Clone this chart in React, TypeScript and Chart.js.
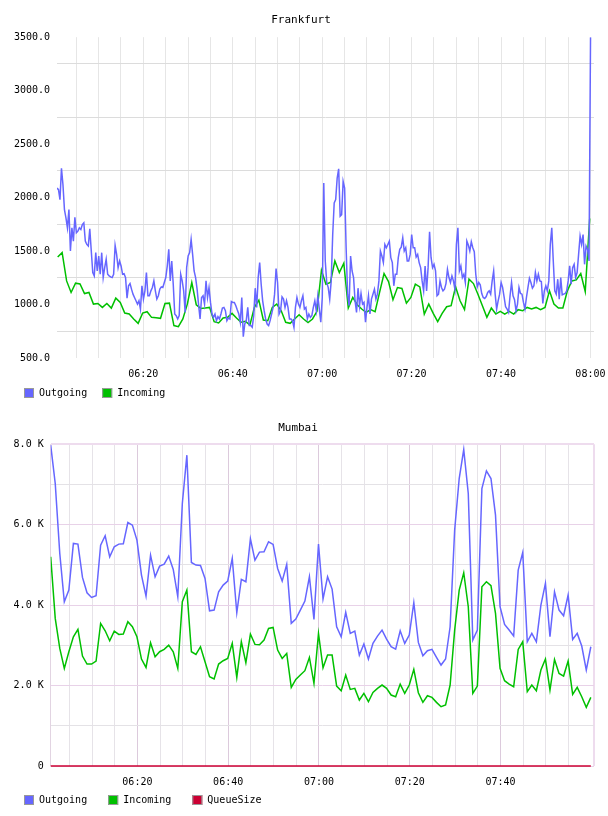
import { useEffect, useRef } from 'react';
import { Chart, registerables } from 'chart.js';

Chart.register(...registerables);

const MONO = '"DejaVu Sans Mono", monospace';

// ---- Frankfurt (minutes after 06:00) ----
// Outgoing is sampled every 20 s, incoming once a minute.
const frankfurtOutStart = 0.69;
const frankfurtOutStep = 1 / 3;
const frankfurtOutgoing = [
  2089, 2074, 1981, 2275, 2120, 1888, 1810, 1717, 1888, 1500,
  1717, 1593, 1816, 1671, 1686, 1717, 1702, 1748, 1764, 1593,
  1562, 1547, 1708, 1500, 1299, 1268, 1485, 1314, 1454, 1283,
  1485, 1252, 1345, 1423, 1283, 1268, 1258, 1252, 1283, 1553,
  1469, 1345, 1407, 1361, 1283, 1289, 1252, 1060, 1175, 1196,
  1144, 1097, 1066, 1035, 1004, 1035, 958, 1175, 1051, 1128,
  1299, 1082, 1082, 1128, 1159, 1221, 1128, 1051, 1082, 1144,
  1165, 1159, 1206, 1252, 1361, 1516, 1221, 1407, 1190, 911,
  896, 865, 896, 1283, 1221, 1128, 927, 1345, 1454, 1485,
  1609, 1469, 1314, 1252, 1144, 998, 865, 1066, 1082, 1004,
  1221, 1066, 1159, 1020, 911, 880, 911, 849, 886, 865,
  911, 967, 973, 942, 849, 874, 865, 1029, 1020, 1020,
  989, 948, 911, 834, 1066, 700, 818, 849, 973, 803,
  803, 787, 896, 1153, 973, 1252, 1392, 1190, 1035, 942,
  865, 818, 803, 849, 911, 973, 1097, 1336, 1206, 911,
  942, 1072, 1051, 973, 1035, 973, 865, 865, 849, 787,
  973, 1066, 1004, 973, 1035, 1082, 958, 973, 865, 911,
  880, 896, 973, 1035, 942, 1082, 958, 834,
  1066, 2136, 1407, 1206, 1159, 1051, 1221, 1655, 1950, 1981,
  2182, 2269, 1826, 1841, 2151, 2089, 1531, 1097, 989, 1454,
  1314, 1252, 1035, 927, 1153, 989, 1103, 1004, 1020, 834,
  973, 1082, 911, 1051, 1097, 1144, 1051, 1097, 1221, 1500,
  1454, 1392, 1562, 1531, 1562, 1593, 1438, 1392, 1175, 1283,
  1283, 1438, 1516, 1537, 1624, 1500, 1531, 1407, 1407, 1469,
  1655, 1531, 1531, 1444, 1469, 1392, 1345, 1221, 1128, 1361,
  1128, 1345, 1680, 1438, 1345, 1376, 1314, 1082, 1097, 1221,
  1159, 1128, 1144, 1196, 1330, 1252, 1206, 1268, 1221, 1144,
  1562, 1717, 1314, 1361, 1252, 1283, 1206, 1593, 1556, 1500,
  1587, 1531, 1494, 1283, 1165, 1206, 1184, 1103, 1066, 1057,
  1075, 1113, 1128, 1097, 1221, 1314, 1097, 958, 1035, 1097,
  1206, 1159, 1072, 979, 958, 927, 1082, 1206, 1082, 1045,
  942, 1004, 1159, 1103, 1097, 1020, 958, 1066, 1159, 1246,
  1206, 1153, 1175, 1299, 1221, 1283, 1221, 1215, 1010, 1128,
  1175, 1128, 1221, 1562, 1717, 1407, 1128, 1097, 1237, 1051,
  1252, 1091, 1097, 1103, 1128, 1221, 1361, 1190, 1345, 1376,
  1252, 1299, 1469, 1640, 1562, 1655, 1376, 1547, 1516, 1407,
  3500,
];
const frankfurtInStart = 0.84;
const frankfurtInStep = 1;
const frankfurtIncoming = [
  1444, 1485, 1221, 1113, 1200, 1193, 1103, 1113, 1004, 1010,
  973, 1010, 967, 1060, 1020, 920, 911, 865, 824, 920,
  933, 880, 877, 871, 1010, 1013, 803, 793, 865, 1004,
  1206, 998, 964, 967, 973, 840, 828, 874, 880, 917,
  874, 834, 843, 809, 973, 1041, 855, 849, 973, 1004,
  942, 834, 824, 865, 905, 865, 831, 865, 936, 1320,
  1190, 1206, 1407, 1299, 1386, 967, 1066, 998, 958, 927,
  952, 933, 1113, 1289, 1215, 1045, 1159, 1150, 1013, 1066,
  1190, 1165, 911, 1004, 917, 840, 917, 979, 989, 1165,
  1035, 952, 1237, 1196, 1097, 989, 880, 967, 911, 936,
  911, 936, 911, 952, 942, 973, 958, 973, 952, 973,
  1128, 1004, 967, 967, 1128, 1221, 1230, 1289, 1122, 1804,
];
const frankfurtXMin = 0.69;
const frankfurtXMax = 120.8;
const frankfurtYTicks = [500, 750, 1000, 1250, 1500, 1750, 2000, 2250, 2500, 2750, 3000, 3250, 3500];

// ---- Mumbai (one sample a minute) ----
const mumbaiStart = 0.9;
const mumbaiStep = 1;
const mumbaiOutgoing = [
  7975, 7023, 5284, 4083, 4373, 5532, 5516, 4688, 4307, 4191,
  4232, 5491, 5723, 5201, 5450, 5516, 5524, 6054, 5988, 5615,
  4746, 4224, 5242, 4704, 4969, 5019, 5218, 4886, 4207, 6526,
  7727, 5060, 4994, 4986, 4663, 3859, 3876, 4331, 4497, 4597,
  5160, 3810, 4638, 4580, 5648, 5118, 5317, 5325, 5574, 5508,
  4911, 4597, 5011, 3545, 3652, 3876, 4100, 4704, 3644, 5516,
  4150, 4704, 4398, 3462, 3213, 3818, 3296, 3354, 2758, 3031,
  2659, 3048, 3230, 3379, 3155, 2965, 2907, 3362, 3048, 3255,
  4058, 3073, 2741, 2866, 2899, 2700, 2509, 2659, 3462, 5864,
  7147, 7868, 6775, 3131, 3379, 6899, 7338, 7147, 6236, 3959,
  3520, 3379, 3230, 4870, 5309, 3089, 3296, 3089, 4000, 4538,
  3213, 4331, 3876, 3735, 4249, 3147, 3296, 2982, 2385, 2965,
];
const mumbaiIncoming = [
  5201, 3669, 2924, 2427, 2841, 3213, 3396, 2733, 2534, 2534,
  2609, 3545, 3362, 3114, 3354, 3271, 3280, 3586, 3462, 3213,
  2659, 2451, 3064, 2716, 2841, 2899, 3006, 2841, 2427, 4083,
  4373, 2841, 2774, 2965, 2592, 2220, 2162, 2534, 2617, 2675,
  3048, 2203, 3089, 2567, 3280, 3023, 3015, 3131, 3420, 3445,
  2882, 2675, 2799, 1955, 2153, 2261, 2369, 2700, 2054, 3296,
  2443, 2758, 2758, 1988, 1872, 2261, 1905, 1930, 1640, 1805,
  1598, 1830, 1930, 2013, 1930, 1764, 1723, 2037, 1805, 2013,
  2402, 1822, 1582, 1747, 1706, 1582, 1474, 1516, 2013, 3379,
  4373, 4804, 3959, 1805, 1988, 4456, 4580, 4481, 3793, 2427,
  2120, 2037, 1971, 2899, 3089, 1847, 2013, 1872, 2385, 2659,
  1888, 2650, 2302, 2236, 2609, 1781, 1955, 1723, 1458, 1706,
];
const mumbaiQueueSize = [
  0, 0, 0, 0, 0, 0, 0, 0, 0, 0,
  0, 0, 0, 0, 0, 0, 0, 0, 0, 0,
  0, 0, 0, 0, 0, 0, 0, 0, 0, 0,
  0, 0, 0, 0, 0, 0, 0, 0, 0, 0,
  0, 0, 0, 0, 0, 0, 0, 0, 0, 0,
  0, 0, 0, 0, 0, 0, 0, 0, 0, 0,
  0, 0, 0, 0, 0, 0, 0, 0, 0, 0,
  0, 0, 0, 0, 0, 0, 0, 0, 0, 0,
  0, 0, 0, 0, 0, 0, 0, 0, 0, 0,
  0, 0, 0, 0, 0, 0, 0, 0, 0, 0,
  0, 0, 0, 0, 0, 0, 0, 0, 0, 0,
  0, 0, 0, 0, 0, 0, 0, 0, 0, 0,
];
const mumbaiXMin = 0.9;
const mumbaiXMax = 120.6;
const mumbaiYTicks = [0, 1000, 2000, 3000, 4000, 5000, 6000, 7000, 8000];

// ---- shared time axis ----
const gridMinutes = [5, 10, 15, 20, 25, 30, 35, 40, 45, 50, 55, 60, 65, 70, 75, 80, 85, 90, 95, 100, 105, 110, 115, 120];
const timeTickMinutes = [20, 40, 60, 80, 100, 120];
const timeTickLabels = ['06:20', '06:40', '07:00', '07:20', '07:40', '08:00'];

const COLORS = {
  outgoing: '#6666ff',
  incoming: '#00c000',
  queue: '#cc0033',
};

function series(values: number[], start: number, step: number) {
  return values.map((y, i) => ({ x: start + i * step, y }));
}

function timeLabel(v: number) {
  const idx = timeTickMinutes.indexOf(Math.round(v * 1000) / 1000);
  return idx >= 0 ? timeTickLabels[idx] : '';
}

// Row of square swatches with a grey outline, drawn under the plot.
const boxLegend = {
  id: 'boxLegend',
  afterDraw(chart: any, _args: any, opts: any) {
    const ctx = chart.ctx;
    ctx.save();
    ctx.font = `10px ${MONO}`;
    ctx.textBaseline = 'middle';
    ctx.textAlign = 'left';
    let x = opts.left;
    const top = opts.top;
    chart.data.datasets.forEach((ds: any) => {
      ctx.fillStyle = ds.borderColor;
      ctx.fillRect(x, top, 10, 10);
      ctx.strokeStyle = '#999999';
      ctx.lineWidth = 1;
      ctx.strokeRect(x + 0.5, top + 0.5, 9, 9);
      ctx.fillStyle = '#000000';
      ctx.fillText(ds.label, x + 15, top + 5.5);
      x += 15 + ctx.measureText(ds.label).width + opts.gap;
    });
    ctx.restore();
  },
};

function lineDataset(label: string, data: any[], color: string, width: number, clip?: boolean) {
  return {
    label,
    data,
    borderColor: color,
    backgroundColor: color,
    borderWidth: width,
    pointRadius: 0,
    tension: 0,
    fill: false,
    ...(clip === false ? { clip: false } : {}),
  };
}

function makeFrankfurt(canvas: HTMLCanvasElement) {
  return new Chart(canvas, {
    type: 'line',
    data: {
      datasets: [
        lineDataset('Outgoing', series(frankfurtOutgoing, frankfurtOutStart, frankfurtOutStep), COLORS.outgoing, 1.5),
        lineDataset('Incoming', series(frankfurtIncoming, frankfurtInStart, frankfurtInStep), COLORS.incoming, 1.5),
      ],
    },
    plugins: [boxLegend],
    options: {
      responsive: false,
      animation: false,
      events: [],
      layout: { padding: { left: 8, right: 14, top: 0, bottom: 25 } },
      plugins: {
        title: {
          display: true,
          text: 'Frankfurt',
          color: '#000000',
          font: { family: MONO, size: 11, weight: 'normal' },
          padding: { top: 14, bottom: 10 },
        },
        legend: { display: false },
        boxLegend: { left: 24, top: 388, gap: 15 },
        tooltip: { enabled: false },
      },
      scales: {
        x: {
          type: 'linear',
          min: frankfurtXMin,
          max: frankfurtXMax,
          afterBuildTicks: (scale: any) => {
            scale.ticks = gridMinutes.map((v) => ({ value: v }));
          },
          afterFit: (scale: any) => {
            scale.height = 22;
            scale.paddingLeft = 0;
            scale.paddingRight = 0;
          },
          grid: { color: '#e6e6e6', lineWidth: 1, drawTicks: false },
          border: { display: false },
          ticks: {
            autoSkip: false,
            maxRotation: 0,
            minRotation: 0,
            padding: 10,
            color: '#000000',
            font: { family: MONO, size: 10 },
            callback: (v: any) => timeLabel(Number(v)),
          },
        },
        y: {
          type: 'linear',
          min: 500,
          max: 3500,
          afterBuildTicks: (scale: any) => {
            scale.ticks = frankfurtYTicks.map((v) => ({ value: v }));
          },
          afterFit: (scale: any) => {
            scale.width = 49;
            scale.paddingTop = 0;
            scale.paddingBottom = 0;
          },
          grid: {
            drawTicks: false,
            lineWidth: 1,
            color: (ctx: any) => (ctx.tick && ctx.tick.value % 500 === 0 ? 'rgba(0,0,0,0)' : '#dcdcdc'),
          },
          border: { display: false },
          ticks: {
            autoSkip: false,
            padding: 7,
            color: '#000000',
            font: { family: MONO, size: 10 },
            callback: (v: any) => (Number(v) % 500 === 0 ? Number(v).toFixed(1) : ''),
          },
        },
      },
    },
  } as any);
}

function makeMumbai(canvas: HTMLCanvasElement) {
  const xTicks = [mumbaiXMin, ...gridMinutes.filter((m) => m < mumbaiXMax - 1), mumbaiXMax];
  return new Chart(canvas, {
    type: 'line',
    data: {
      datasets: [
        lineDataset('Outgoing', series(mumbaiOutgoing, mumbaiStart, mumbaiStep), COLORS.outgoing, 1.5),
        lineDataset('Incoming', series(mumbaiIncoming, mumbaiStart, mumbaiStep), COLORS.incoming, 1.5),
        lineDataset('QueueSize', series(mumbaiQueueSize, mumbaiStart, mumbaiStep), COLORS.queue, 1.5, false),
      ],
    },
    plugins: [boxLegend],
    options: {
      responsive: false,
      animation: false,
      events: [],
      layout: { padding: { left: 2, right: 14, top: 0, bottom: 28 } },
      plugins: {
        title: {
          display: true,
          text: 'Mumbai',
          color: '#000000',
          font: { family: MONO, size: 11, weight: 'normal' },
          padding: { top: 12, bottom: 9 },
        },
        legend: { display: false },
        boxLegend: { left: 24, top: 385, gap: 21 },
        tooltip: { enabled: false },
      },
      scales: {
        x: {
          type: 'linear',
          min: mumbaiXMin,
          max: mumbaiXMax,
          afterBuildTicks: (scale: any) => {
            scale.ticks = xTicks.map((v) => ({ value: v }));
          },
          afterFit: (scale: any) => {
            scale.height = 22;
            scale.paddingLeft = 0;
            scale.paddingRight = 0;
          },
          grid: {
            drawTicks: false,
            lineWidth: (ctx: any) => (ctx.tick && ctx.tick.value === mumbaiXMax ? 2 : 1),
            color: (ctx: any) => {
              const v = ctx.tick ? ctx.tick.value : 0;
              if (v === mumbaiXMax) return '#eedcee';
              if (v === mumbaiXMin) return '#e2d4e2';
              return v % 20 === 0 ? '#dccadc' : '#e6e3e8';
            },
          },
          border: { display: false },
          ticks: {
            autoSkip: false,
            maxRotation: 0,
            minRotation: 0,
            padding: 10,
            color: '#000000',
            font: { family: MONO, size: 10 },
            callback: (v: any) => timeLabel(Number(v)),
          },
        },
        y: {
          type: 'linear',
          min: 0,
          max: 8000,
          afterBuildTicks: (scale: any) => {
            scale.ticks = mumbaiYTicks.map((v) => ({ value: v }));
          },
          afterFit: (scale: any) => {
            scale.width = 48.7;
            scale.paddingTop = 0;
            scale.paddingBottom = 0;
          },
          grid: {
            drawTicks: false,
            lineWidth: (ctx: any) => (ctx.tick && ctx.tick.value === 8000 ? 2 : 1),
            color: (ctx: any) => {
              const v = ctx.tick ? ctx.tick.value : 0;
              if (v === 8000) return '#eedcee';
              return v % 2000 === 0 ? '#e8d2e8' : '#e4e2e6';
            },
          },
          border: { display: false },
          ticks: {
            autoSkip: false,
            padding: 7,
            color: '#000000',
            font: { family: MONO, size: 10 },
            callback: (v: any) => {
              const n = Number(v);
              if (n === 0) return '0';
              return n % 2000 === 0 ? (n / 1000).toFixed(1) + ' K' : '';
            },
          },
        },
      },
    },
  } as any);
}

export default function App() {
  const topRef = useRef<HTMLCanvasElement | null>(null);
  const bottomRef = useRef<HTMLCanvasElement | null>(null);

  useEffect(() => {
    const charts: Chart[] = [];
    if (topRef.current) charts.push(makeFrankfurt(topRef.current));
    if (bottomRef.current) charts.push(makeMumbai(bottomRef.current));
    return () => charts.forEach((c) => c.destroy());
  }, []);

  return (
    <div style={{ position: 'absolute', left: 0, top: 0, width: 608, height: 816, background: '#ffffff' }}>
      <canvas
        ref={topRef}
        width={608}
        height={405}
        style={{ position: 'absolute', left: 0, top: 0, width: 608, height: 405 }}
      />
      <canvas
        ref={bottomRef}
        width={608}
        height={406}
        style={{ position: 'absolute', left: 0, top: 410, width: 608, height: 406 }}
      />
    </div>
  );
}
